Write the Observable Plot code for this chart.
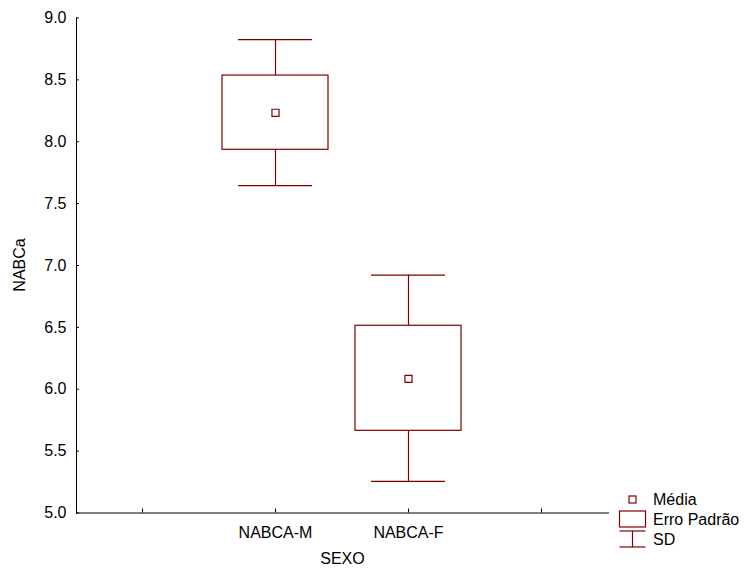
<!DOCTYPE html>
<html>
<head>
<meta charset="utf-8">
<script src="https://cdn.jsdelivr.net/npm/d3@7"></script>
<script src="https://cdn.jsdelivr.net/npm/@observablehq/plot@0.6"></script>
<style>
  html, body { margin: 0; padding: 0; background: #fff; }
  #wrap { position: relative; width: 744px; height: 568px; font-family: "Liberation Sans", Arial, sans-serif; }
  #legend { position: absolute; left: 0; top: 0; }
</style>
</head>
<body>
<div id="wrap"></div>
<script>
// ---- data ----
const slots = ["·L", "NABCA-M", "NABCA-F", "·R"];
const groups = ["NABCA-M", "NABCA-F"];
const means = [8.234, 6.084];
const seLow = [7.935, 5.664];
const seHigh = [8.535, 6.513];
const sdLow = [7.646, 5.255];
const sdHigh = [8.826, 6.922];
const yTicks = [5.0, 5.5, 6.0, 6.5, 7.0, 7.5, 8.0, 8.5, 9.0];
const legendLabels = ["Média", "Erro Padrão", "SD"];
const xTitle = "SEXO";
const yTitle = "NABCa";

const color = "#800000";
const font = "'Liberation Sans', Arial, sans-serif";
const rows = groups.map((g, i) => ({g, mean: means[i], seLow: seLow[i], seHigh: seHigh[i], sdLow: sdLow[i], sdHigh: sdHigh[i]}));

const chart = Plot.plot({
  width: 744,
  height: 568,
  marginLeft: 76,
  marginRight: 136,
  marginTop: 17.5,
  marginBottom: 55.5,
  style: {fontFamily: font, fontSize: "16px", color: "#000", background: "#fff"},
  x: {type: "band", domain: slots, paddingInner: 0.2, paddingOuter: 0.1, align: 0.5},
  y: {domain: [5, 9]},
  marks: [
    Plot.axisY({ticks: yTicks, tickSize: -3, tickPadding: 13, tickFormat: d => d.toFixed(1), label: null, stroke: "#000"}),
    Plot.axisX({tickSize: -4, tickPadding: 18, tickFormat: d => groups.includes(d) ? d : "", label: xTitle, labelAnchor: "center", labelOffset: 51, stroke: "#000"}),
    Plot.frame({anchor: "left", stroke: "#000"}),
    Plot.frame({anchor: "bottom", stroke: "#000"}),
    Plot.ruleX(rows, {x: "g", y1: "seHigh", y2: "sdHigh", stroke: color, strokeWidth: 1.2}),
    Plot.ruleX(rows, {x: "g", y1: "sdLow", y2: "seLow", stroke: color, strokeWidth: 1.2}),
    Plot.tickY(rows, {x: "g", y: "sdHigh", stroke: color, strokeWidth: 1.2, inset: 16}),
    Plot.tickY(rows, {x: "g", y: "sdLow", stroke: color, strokeWidth: 1.2, inset: 16}),
    Plot.barY(rows, {x: "g", y1: "seLow", y2: "seHigh", fill: "none", stroke: color, strokeWidth: 1.2}),
    Plot.dot(rows, {x: "g", y: "mean", symbol: "square", r: 4, fill: "none", stroke: color, strokeWidth: 1.2})
  ]
});

const wrap = document.getElementById("wrap");
wrap.appendChild(chart);

// ---- overlay: y title and legend ----
const lg = d3.select(wrap).append("svg").attr("id", "legend").attr("width", 744).attr("height", 568)
  .style("font-family", font).style("font-size", "16px");
lg.append("text").attr("transform", "translate(19.5,265) rotate(-90)")
  .attr("text-anchor", "middle").attr("dy", "0.35em").attr("fill", "#000").text(yTitle);

const ys = [499.5, 519, 539];
const lx = 619.5, lw = 26;
// Média
lg.append("rect").attr("x", 629).attr("y", ys[0] - 3.5).attr("width", 7).attr("height", 7)
  .attr("fill", "none").attr("stroke", color).attr("stroke-width", 1.2);
// Erro Padrão
lg.append("rect").attr("x", lx).attr("y", 511).attr("width", lw).attr("height", 16)
  .attr("fill", "none").attr("stroke", color).attr("stroke-width", 1.2);
// SD
lg.append("line").attr("x1", lx).attr("x2", lx + lw).attr("y1", 531).attr("y2", 531).attr("stroke", color).attr("stroke-width", 1.2);
lg.append("line").attr("x1", lx).attr("x2", lx + lw).attr("y1", 547).attr("y2", 547).attr("stroke", color).attr("stroke-width", 1.2);
lg.append("line").attr("x1", lx + lw / 2).attr("x2", lx + lw / 2).attr("y1", 531).attr("y2", 547).attr("stroke", color).attr("stroke-width", 1.2);
lg.selectAll("text.l").data(legendLabels).join("text").attr("class", "l")
  .attr("x", 653).attr("y", (d, i) => ys[i]).attr("dy", "0.35em").attr("fill", "#000").text(d => d);
</script>
</body>
</html>
